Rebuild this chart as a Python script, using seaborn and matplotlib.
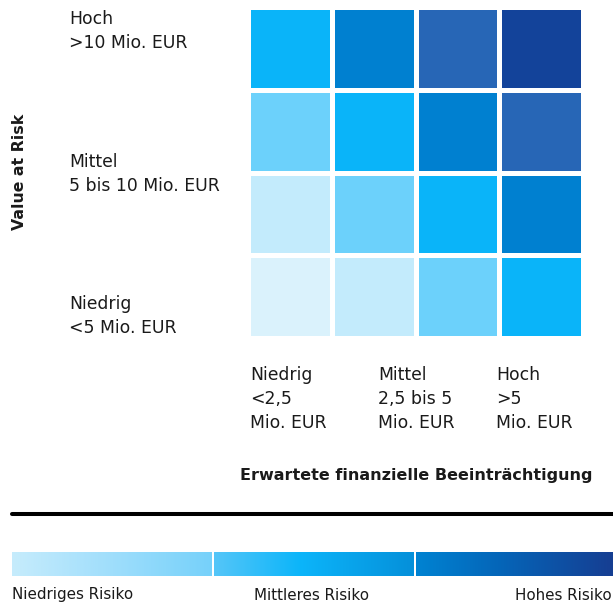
import numpy as np
import pandas as pd
import matplotlib
matplotlib.use("Agg")
import matplotlib.pyplot as plt
from matplotlib.colors import ListedColormap, LinearSegmentedColormap
from matplotlib.lines import Line2D
import seaborn as sns

# ---- data ----
var_labels = ["Hoch\n>10 Mio. EUR", "Mittel\n5 bis 10 Mio. EUR", "Niedrig\n<5 Mio. EUR"]
impact_labels = ["Niedrig\n<2,5\nMio. EUR", "Mittel\n2,5 bis 5\nMio. EUR", "Hoch\n>5\nMio. EUR"]
row_names = ["r4", "r3", "r2", "r1"]          # top -> bottom
col_names = ["c1", "c2", "c3", "c4"]
risk_row_top = [3, 4, 5, 6]
risk_row_2 = [2, 3, 4, 5]
risk_row_3 = [1, 2, 3, 4]
risk_row_bottom = [0, 1, 2, 3]
level_colors = ["#DAF2FC", "#C3EBFC", "#6CD1FB", "#0AB4F9", "#0080D0", "#2766B6", "#13439A"]
legend_labels = ["Niedriges Risiko", "Mittleres Risiko", "Hohes Risiko"]
seg_colors = [["#C6ECFC", "#A5E0FC", "#76D1FA"],
              ["#55C6F8", "#0CB5FA", "#0590DA"],
              ["#0083D2", "#0565B8", "#163E92"]]

W, H = 613, 603
sns.set_style("white")
plt.rcParams['font.family'] = ['DejaVu Sans']
fig = plt.figure(figsize=(W / 100, H / 100), dpi=100)

def fx(px):
    return px / W

def fy(py):
    return 1 - py / H

# ---- heatmap ----
df = pd.DataFrame([risk_row_top, risk_row_2, risk_row_3, risk_row_bottom],
                  index=row_names, columns=col_names)
ax = fig.add_axes([fx(248.3), fy(337.7), fx(334.4), 330.4 / H])
sns.heatmap(df, ax=ax, cmap=ListedColormap(level_colors), vmin=-0.5, vmax=6.5,
            cbar=False, linewidths=2.5, linecolor="white", square=False)
ax.set_xticks([]); ax.set_yticks([])
ax.set_xlabel(""); ax.set_ylabel("")
for s in ax.spines.values():
    s.set_visible(False)

fs = 12.4
txtc = "#1a1a1a"
pitch = 24

def block(x, first_baseline, label):
    for i, line in enumerate(label.split("\n")):
        fig.text(fx(x), fy(first_baseline + i * pitch), line, ha="left",
                 va="baseline", fontsize=fs, color=txtc)

# y labels
for lab, yb in zip(var_labels, [24, 167, 309]):
    block(69, yb, lab)
# x labels
for lab, xl in zip(impact_labels, [250, 378, 496]):
    block(xl, 380, lab)

fig.text(fx(416), fy(480), "Erwartete finanzielle Beeinträchtigung", ha="center",
         va="baseline", fontsize=11.5, fontweight="bold", color=txtc)
fig.text(fx(20), fy(172), "Value at Risk", ha="center", va="center", rotation=90,
         fontsize=11.3, fontweight="bold", color=txtc)

# ---- separator line ----
fig.add_artist(Line2D([fx(12), 1.0], [fy(514), fy(514)], color="black",
                      linewidth=2.9, transform=fig.transFigure))

# ---- gradient legend bar ----
lax = fig.add_axes([fx(12), fy(576), fx(601), 24 / H])
bounds = [(0, 200), (202, 402), (404, 601)]
grad = np.linspace(0, 1, 256).reshape(1, -1)
for (x0, x1), cols in zip(bounds, seg_colors):
    cm = LinearSegmentedColormap.from_list("seg", [(0, cols[0]), (0.43, cols[1]), (1, cols[2])])
    lax.imshow(grad, aspect="auto", cmap=cm, extent=(x0, x1, 0, 1))
lax.set_xlim(0, 601)
lax.set_ylim(0, 1)
lax.axis("off")

for lab, x, ha in zip(legend_labels, [12, 312, 612], ["left", "center", "right"]):
    fig.text(fx(x), fy(599.5), lab, ha=ha, va="baseline", fontsize=10.9, color=txtc)

fig.savefig("out.png", dpi=100)
